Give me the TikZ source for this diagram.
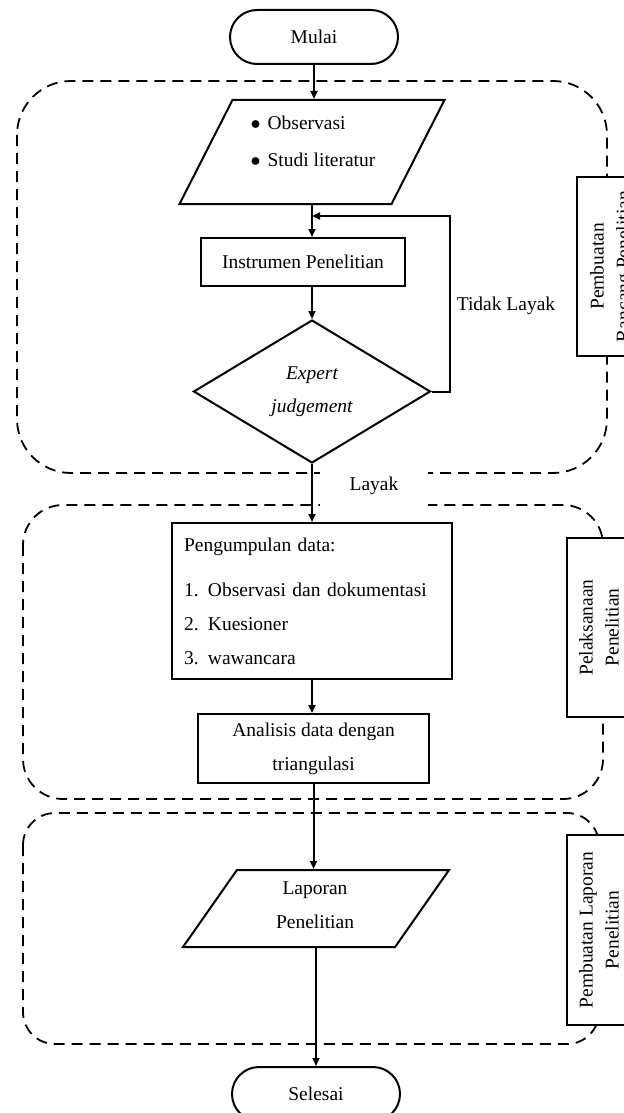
\documentclass[tikz,border=0pt]{standalone}
\usepackage{fontspec}
\setmainfont{Liberation Serif}
\usetikzlibrary{shapes.geometric, arrows.meta, positioning}

\begin{document}
\begin{tikzpicture}[x=0.5pt, y=-0.5pt, font=\fontsize{9.75}{17}\selectfont,
        term/.style={draw, line width=1pt, rounded corners=13.5pt, minimum width=84pt, minimum height=27pt},
        io/.style={draw, line width=1pt, trapezium, trapezium stretches body, inner sep=0pt},
        proc/.style={draw, line width=1pt, align=center, inner sep=0pt},
        dec/.style={draw, line width=1pt, diamond, aspect=1.66, inner sep=0pt, minimum width=118.5pt, minimum height=71.5pt, align=center, font=\fontsize{9.75}{16.5}\selectfont\itshape},
        phase/.style={draw, line width=0.9pt, dash pattern=on 5.5pt off 3.5pt},
        side/.style={draw, line width=1pt, fill=white, rotate=90, align=center, inner sep=0pt, font=\fontsize{9.75}{13}\selectfont},
        arr/.style={-{Triangle[length=4pt, width=3.5pt]}, line width=1pt}]
    \useasboundingbox (0,0) rectangle (624,1113);
    % stages
    \draw[phase, rounded corners=27pt] (17,81) rectangle (607,473);
    \draw[phase, rounded corners=20pt] (23,505) rectangle (603,799);
    \draw[phase, rounded corners=16pt] (23,813) rectangle (599,1044);
    \node[side, minimum width=89.5pt, minimum height=35pt] (ph1) at (612,266.5) {Pembuatan\\Rancang Penelitian};
    \node[side, minimum width=89.5pt, minimum height=32pt] (ph2) at (599,627.5) {Pelaksanaan\\Penelitian};
    \node[side, minimum width=95pt, minimum height=32pt] (ph3) at (599,930) {Pembuatan Laporan\\Penelitian};
    % flow
    \node[term] (start) at (314,37) {Mulai};
    \node[io, trapezium left angle=63, trapezium right angle=117, text height=26pt, text depth=26pt, minimum width=132.5pt] (obs) at (312,152) {};
    \node[align=left] (obstxt) at (313,141) {\makebox[8.5pt][l]{$\bullet$}Observasi\\[1.5pt]\makebox[8.5pt][l]{$\bullet$}Studi literatur};
    \node[proc, minimum width=102pt, minimum height=24pt] (inst) at (303,262) {Instrumen Penelitian};
    \node[dec] (jdg) at (312,391.5) {Expert\\judgement};
    \node (notok) at (506,306) {Tidak Layak};
    \node[fill=white, minimum width=54pt, minimum height=18pt, text height=7pt, text depth=5.4pt, inner sep=0pt] (ok) at (374,489) {Layak};
    \node[proc, text width=128pt, inner xsep=6pt, inner ysep=0pt, minimum height=78pt, align=left] (coll) at (312,601) {Pengumpulan data:\\[5.5pt]
        \makebox[12pt][l]{1.}Observasi dan dokumentasi\\
        \makebox[12pt][l]{2.}Kuesioner\\
        \makebox[12pt][l]{3.}wawancara};
    \node[proc, minimum width=115.5pt, minimum height=34.5pt] (anl) at (313.5,748.5) {Analisis data dengan\\triangulasi};
    \node[io, trapezium left angle=55, trapezium right angle=125, text height=19.25pt, text depth=19.25pt, minimum width=133pt] (rep) at (316,908.5) {};
    \node[align=center] (reptxt) at (315,905) {Laporan\\Penelitian};
    \node[term] (stop) at (316,1094) {Selesai};
    \draw[arr] (start.south) -- (start.south |- obs.north);
    \draw[arr] (obs.south) -- (obs.south |- inst.north);
    \draw[arr] (jdg.north |- inst.south) -- (jdg.north);
    \draw[arr] (jdg.south) -- (jdg.south |- coll.north);
    \draw[arr] (coll.south) -- (coll.south |- anl.north);
    \draw[arr] (anl.south) -- (anl.south |- rep.north);
    \draw[arr] (rep.south) -- (rep.south |- stop.north);
    \coordinate (back) at (450,216);
    \draw[arr] (jdg.east) -| (back) -- (back -| obs.south);
\end{tikzpicture}
\end{document}
